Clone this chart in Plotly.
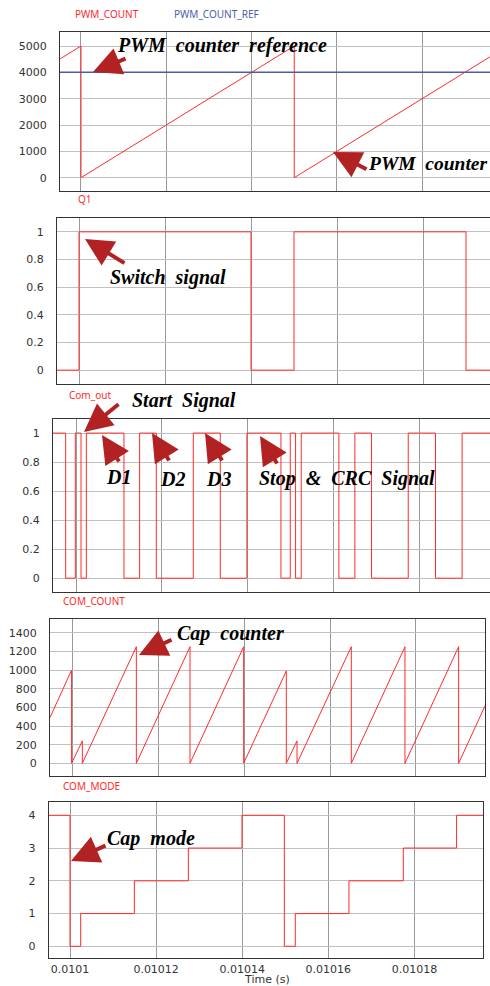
import plotly.graph_objects as go

# ---------------- data ----------------
# Panel 1: PWM counter and its reference
pwm_t = [0.0100951, 0.0101, 0.0101, 0.01015, 0.01015, 0.0101959]
pwm_v = [4510, 5000, 0, 5000, 0, 4590]
pwm_ref_t = [0.0100951, 0.0101959]
pwm_ref_v = [4000, 4000]

# Panel 2: switch signal Q1 (step)
q1_t = [0.0100949, 0.0101, 0.01014, 0.01015, 0.01019, 0.0101956]
q1_v = [0, 1, 0, 1, 0, 0]

# Panel 3: Com_out (step)
com_out_t = [0.01009464, 0.01009759, 0.01009984, 0.01010117, 0.01010241,
             0.01011118, 0.01011483, 0.01011872, 0.01012734, 0.01013363,
             0.01013984, 0.01014777, 0.01014994, 0.01015118, 0.0101525,
             0.01016128, 0.010165, 0.01016889, 0.01017744, 0.0101838,
             0.01019, 0.0101965]
com_out_v = [1, 0, 1, 0, 1, 0, 1, 0, 1, 0, 1, 0, 1, 0, 1, 0, 1, 0, 1, 0, 1, 1]

# Panel 4: COM_COUNT (capture counter)
com_count_t = [0.01009488, 0.0100999, 0.0100999, 0.0101024, 0.0101024,
               0.01011496, 0.01011496, 0.01012744, 0.01012744, 0.01013992,
               0.01013992, 0.01014984, 0.01014984, 0.01015233, 0.01015233,
               0.01016496, 0.01016496, 0.01017744, 0.01017744, 0.01018992,
               0.01018992, 0.01019605]
com_count_v = [490, 1000, 0, 240, 0, 1250, 0, 1250, 0, 1250, 0, 990, 0, 240, 0,
               1250, 0, 1250, 0, 1250, 0, 615]

# Panel 5: COM_MODE (step)
com_mode_t = [0.01009505, 0.0101, 0.01010248, 0.01011494, 0.01012748,
              0.01013994, 0.01014977, 0.01015232, 0.01016478, 0.0101774,
              0.01018978, 0.01019598]
com_mode_v = [4, 0, 1, 2, 3, 4, 0, 1, 2, 3, 4, 4]

x_tickvals = [0.0101, 0.01012, 0.01014, 0.01016, 0.01018]
x_ticktext = ["0.0101", "0.01012", "0.01014", "0.01016", "0.01018"]
y1_ticks = [0, 1000, 2000, 3000, 4000, 5000]
y2_ticks = [0, 0.2, 0.4, 0.6, 0.8, 1]
y3_ticks = [0, 0.2, 0.4, 0.6, 0.8, 1]
y4_ticks = [0, 200, 400, 600, 800, 1000, 1200, 1400]
y5_ticks = [0, 1, 2, 3, 4]

# ---------------- layout helpers ----------------
W, H = 490, 986
def px(x):
    return x / W
def py(y):
    return 1 - y / H

RED = "#ff2b2b"
BLUE = "#4a5ea8"
ARROW = "#b22222"

fig = go.Figure()
fig.add_trace(go.Scatter(x=pwm_t, y=pwm_v, mode="lines", line=dict(color=RED, width=1),
                         xaxis="x", yaxis="y", name="PWM_COUNT"))
fig.add_trace(go.Scatter(x=pwm_ref_t, y=pwm_ref_v, mode="lines", line=dict(color=BLUE, width=1.5),
                         xaxis="x", yaxis="y", name="PWM_COUNT_REF"))
fig.add_trace(go.Scatter(x=q1_t, y=q1_v, mode="lines", line=dict(color=RED, width=1, shape="hv"),
                         xaxis="x2", yaxis="y2", name="Q1"))
fig.add_trace(go.Scatter(x=com_out_t, y=com_out_v, mode="lines", line=dict(color=RED, width=1, shape="hv"),
                         xaxis="x3", yaxis="y3", name="Com_out"))
fig.add_trace(go.Scatter(x=com_count_t, y=com_count_v, mode="lines", line=dict(color=RED, width=1),
                         xaxis="x4", yaxis="y4", name="COM_COUNT"))
fig.add_trace(go.Scatter(x=com_mode_t, y=com_mode_v, mode="lines", line=dict(color=RED, width=1, shape="hv"),
                         xaxis="x5", yaxis="y5", name="COM_MODE"))

panels = [
    # (x-left px, x-right px, y-top px, y-bottom px, x range, y range, y ticks)
    (60, 490, 32, 191, [0.01009508, 0.0101959], [-506, 5532], y1_ticks),
    (57, 490, 218, 384, [0.01009488, 0.01019558], [-0.1, 1.1], y2_ticks),
    (53, 490, 419, 592, [0.01009464, 0.0101965], [-0.095, 1.097], y3_ticks),
    (50, 485, 619, 776, [0.01009488, 0.01019605], [-136, 1547], y4_ticks),
    (48.7, 483.3, 801.7, 958.3, [0.01009505, 0.01019598], [-0.366, 4.415], y5_ticks),
]

tickfont = dict(family="DejaVu Sans", size=11, color="#333333")
layout = dict(
    width=W, height=H, autosize=False,
    margin=dict(l=0, r=0, t=0, b=0),
    paper_bgcolor="white", plot_bgcolor="white",
    showlegend=False,
)
for i, (xl, xr, yt, yb, xr_, yr_, yt_) in enumerate(panels, start=1):
    sx = "" if i == 1 else str(i)
    layout["xaxis" + sx] = dict(
        domain=[px(xl), min(1.0, px(xr))], range=xr_, anchor="y" + sx,
        tickvals=x_tickvals, ticktext=x_ticktext,
        showticklabels=(i == 5), ticks="",
        showgrid=True, gridcolor="#999999", gridwidth=1.2,
        zeroline=False, showline=True, linecolor="#333333", linewidth=1.2, mirror=True,
        tickfont=tickfont, automargin=False,
    )
    layout["yaxis" + sx] = dict(
        domain=[py(yb), py(yt)], range=yr_, anchor="x" + sx,
        tickvals=yt_, ticks="outside", ticklen=10, tickcolor="rgba(0,0,0,0)",
        showgrid=True, gridcolor="#c0c0c0", gridwidth=1.2,
        zeroline=False, showline=True, linecolor="#333333", linewidth=1.2, mirror=True,
        tickfont=tickfont, automargin=False,
    )
fig.update_layout(**layout)

annotations = []
# series labels
series_labels = [
    ("PWM_COUNT", 73, 13.5, RED),
    ("PWM_COUNT_REF", 171.5, 13.5, BLUE),
    ("Q1", 75.5, 199, RED),
    ("Com_out", 67, 395, RED),
    ("COM_COUNT", 61, 601, RED),
    ("COM_MODE", 61, 786, RED),
]
for text, x, y, c in series_labels:
    annotations.append(dict(text=text, x=px(x), y=py(y), xref="paper", yref="paper",
                            xanchor="left", yanchor="middle", showarrow=False,
                            font=dict(family="Noto Sans", size=10, color=c)))

# x-axis title
annotations.append(dict(text="Time (s)", x=px(267), y=py(979), xref="paper", yref="paper",
                        xanchor="center", yanchor="middle", showarrow=False,
                        font=dict(family="DejaVu Sans", size=11, color="#333333")))

# callout texts
NB = "\u00a0"
callouts = [
    ("PWM" + NB + " counter" + NB + " reference", 115, 45, 20),
    ("PWM" + NB + " counter", 366, 163, 19.5),
    ("Switch" + NB + " signal", 108, 277, 20),
    ("Start" + NB + " Signal", 130, 401, 20),
    ("D1", 104, 477, 20),
    ("D2", 158, 479, 20),
    ("D3", 204, 479, 20),
    ("Stop" + NB + " &" + NB + " CRC" + NB + " Signal", 257, 479, 20),
    ("Cap" + NB + " counter", 175, 633, 20),
    ("Cap" + NB + " mode", 105, 838, 20),
]
for text, x, y, fs in callouts:
    annotations.append(dict(text="<b><i>" + text + "</i></b>", x=px(x), y=py(y),
                            xref="paper", yref="paper", xanchor="left", yanchor="middle",
                            showarrow=False,
                            font=dict(family="Liberation Serif", size=fs, color="black")))

# callout arrows (tip position px, tail offset px)
arrows = [
    (93, 72, 34, -14),
    (333, 152, 35, 18),
    (85, 239, 41, 25),
    (84, 432, 36, -29),
    (102, 435, 18, 28),
    (152, 433, 18, 29),
    (205, 433, 18, 29),
    (260, 436, 18, 29),
    (139, 655, 34, -16),
    (71, 861, 36, -16),
]
for x, y, ax, ay in arrows:
    annotations.append(dict(text="", x=px(x), y=py(y), xref="paper", yref="paper",
                            showarrow=True, ax=ax, ay=ay, axref="pixel", ayref="pixel",
                            arrowhead=2, arrowsize=1.4, arrowwidth=4, arrowcolor=ARROW,
                            standoff=0, startstandoff=0))

fig.update_layout(annotations=annotations)
fig.write_html("out.html", config={"displayModeBar": False},
               post_script="document.body.style.margin='0';document.body.style.overflow='hidden';")
